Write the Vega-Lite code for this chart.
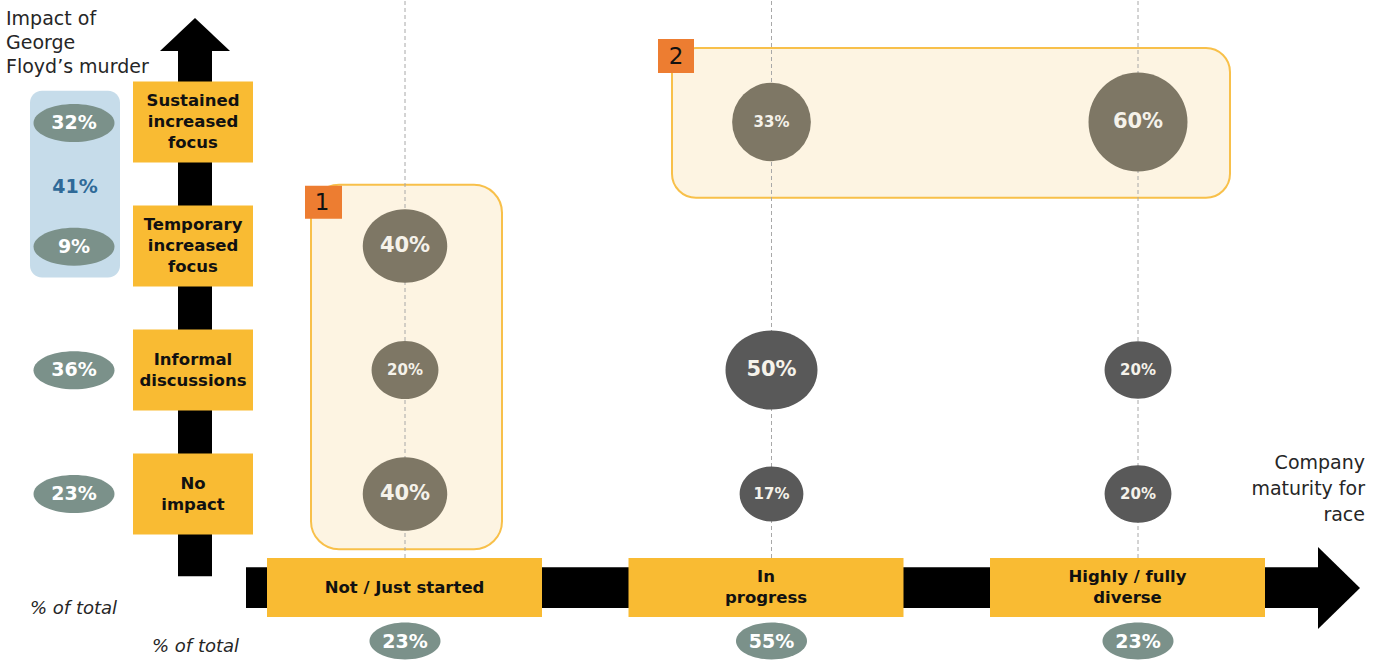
{
  "$schema": "https://vega.github.io/schema/vega-lite/v6.json",
  "width": 1383,
  "height": 661,
  "padding": 0,
  "autosize": {"type": "fit", "contains": "padding"},
  "background": "white",
  "config": {"view": {"stroke": null}, "axis": {"disable": true}, "legend": {"disable": true}, "font": "DejaVu Sans"},
  "datasets": {
    "cells": [
      {"maturity": "Not / Just started", "impact": "Temporary increased focus", "pct": 0.40, "callout": "1"},
      {"maturity": "Not / Just started", "impact": "Informal discussions", "pct": 0.20, "callout": "1"},
      {"maturity": "Not / Just started", "impact": "No impact", "pct": 0.40, "callout": "1"},
      {"maturity": "In progress", "impact": "Sustained increased focus", "pct": 0.33, "callout": "2"},
      {"maturity": "In progress", "impact": "Informal discussions", "pct": 0.50, "callout": "none"},
      {"maturity": "In progress", "impact": "No impact", "pct": 0.17, "callout": "none"},
      {"maturity": "Highly / fully diverse", "impact": "Sustained increased focus", "pct": 0.60, "callout": "2"},
      {"maturity": "Highly / fully diverse", "impact": "Informal discussions", "pct": 0.20, "callout": "none"},
      {"maturity": "Highly / fully diverse", "impact": "No impact", "pct": 0.20, "callout": "none"}
    ],
    "impact": [
      {"impact": "Sustained increased focus", "label": "Sustained\nincreased\nfocus", "pct": 0.32},
      {"impact": "Temporary increased focus", "label": "Temporary\nincreased\nfocus", "pct": 0.09},
      {"impact": "Informal discussions", "label": "Informal\ndiscussions", "pct": 0.36},
      {"impact": "No impact", "label": "No\nimpact", "pct": 0.23}
    ],
    "maturity": [
      {"maturity": "Not / Just started", "label": "Not / Just started", "pct": 0.23},
      {"maturity": "In progress", "label": "In\nprogress", "pct": 0.55},
      {"maturity": "Highly / fully diverse", "label": "Highly / fully\ndiverse", "pct": 0.23}
    ]
  },
  "data": {"values": [{}]},
  "resolve": {"scale": {"x": "independent", "y": "independent", "size": "independent", "color": "independent", "shape": "independent"}},
  "layer": [
    {"mark": {"type": "rect", "fill": "#fdf4e2", "stroke": "#f8c04a", "strokeWidth": 2, "cornerRadius": 24},
     "encoding": {
       "x": {"datum": 672, "type": "quantitative", "scale": {"domain": [0, 1383], "nice": false, "zero": false}},
       "x2": {"datum": 1230},
       "y": {"datum": 47, "type": "quantitative", "scale": {"domain": [0, 661], "nice": false, "zero": false, "reverse": true}},
       "y2": {"datum": 197}}},
    {"mark": {"type": "rect", "fill": "#fdf4e2", "stroke": "#f8c04a", "strokeWidth": 2, "cornerRadius": 28},
     "encoding": {
       "x": {"datum": 311, "type": "quantitative", "scale": {"domain": [0, 1383], "nice": false, "zero": false}},
       "x2": {"datum": 502},
       "y": {"datum": 184, "type": "quantitative", "scale": {"domain": [0, 661], "nice": false, "zero": false, "reverse": true}},
       "y2": {"datum": 549}}},
    {"data": {"name": "maturity"},
     "mark": {"type": "rule", "color": "#a8a8a8", "strokeWidth": 1, "strokeDash": [4, 3]},
     "encoding": {
       "x": {"field": "maturity", "type": "nominal", "scale": {"type": "point", "domain": ["Not / Just started", "In progress", "Highly / fully diverse"], "range": [405, 1138], "padding": 0}},
       "y": {"datum": 0, "type": "quantitative", "scale": {"domain": [0, 661], "nice": false, "zero": false, "reverse": true}},
       "y2": {"datum": 565}}},
    {"mark": {"type": "rect", "fill": "#000000"},
     "encoding": {
       "x": {"datum": 178, "type": "quantitative", "scale": {"domain": [0, 1383], "nice": false, "zero": false}},
       "x2": {"datum": 212},
       "y": {"datum": 49, "type": "quantitative", "scale": {"domain": [0, 661], "nice": false, "zero": false, "reverse": true}},
       "y2": {"datum": 576}}},
    {"mark": {"type": "point", "filled": true, "opacity": 1, "fill": "#000000", "strokeWidth": 0, "size": 4900, "shape": "M0,-0.471L1,0.471L-1,0.471Z"},
     "encoding": {
       "x": {"datum": 195, "type": "quantitative", "scale": {"domain": [0, 1383], "nice": false, "zero": false}},
       "y": {"datum": 33.5, "type": "quantitative", "scale": {"domain": [0, 661], "nice": false, "zero": false, "reverse": true}}}},
    {"mark": {"type": "rect", "fill": "#000000"},
     "encoding": {
       "x": {"datum": 246, "type": "quantitative", "scale": {"domain": [0, 1383], "nice": false, "zero": false}},
       "x2": {"datum": 1320},
       "y": {"datum": 567, "type": "quantitative", "scale": {"domain": [0, 661], "nice": false, "zero": false, "reverse": true}},
       "y2": {"datum": 608}}},
    {"mark": {"type": "point", "filled": true, "opacity": 1, "fill": "#000000", "strokeWidth": 0, "size": 6724, "shape": "M-0.512,-1L0.512,0L-0.512,1Z"},
     "encoding": {
       "x": {"datum": 1339, "type": "quantitative", "scale": {"domain": [0, 1383], "nice": false, "zero": false}},
       "y": {"datum": 588, "type": "quantitative", "scale": {"domain": [0, 661], "nice": false, "zero": false, "reverse": true}}}},
    {"data": {"name": "impact"},
     "mark": {"type": "point", "filled": true, "opacity": 1, "fill": "#f9bb33", "strokeWidth": 0, "size": 14400, "shape": "M-1,-0.675H1V0.675H-1Z"},
     "encoding": {
       "x": {"datum": 193, "type": "quantitative", "scale": {"domain": [0, 1383], "nice": false, "zero": false}},
       "y": {"field": "impact", "type": "nominal", "scale": {"type": "point", "domain": ["Sustained increased focus", "Temporary increased focus", "Informal discussions", "No impact"], "range": [121, 493], "padding": 0}}}},
    {"data": {"name": "impact"},
     "transform": [{"filter": {"field": "impact", "oneOf": ["Sustained increased focus", "Temporary increased focus"]}}],
     "mark": {"type": "text", "fontWeight": "bold", "fontSize": 16.5, "color": "#111111", "lineBreak": "\n", "lineHeight": 21, "align": "center", "baseline": "middle", "dy": -21},
     "encoding": {
       "x": {"datum": 193, "type": "quantitative", "scale": {"domain": [0, 1383], "nice": false, "zero": false}},
       "y": {"field": "impact", "type": "nominal", "scale": {"type": "point", "domain": ["Sustained increased focus", "Temporary increased focus", "Informal discussions", "No impact"], "range": [121, 493], "padding": 0}},
       "text": {"field": "label", "type": "nominal"}}},
    {"data": {"name": "impact"},
     "transform": [{"filter": {"field": "impact", "oneOf": ["Informal discussions", "No impact"]}}],
     "mark": {"type": "text", "fontWeight": "bold", "fontSize": 16.5, "color": "#111111", "lineBreak": "\n", "lineHeight": 21, "align": "center", "baseline": "middle", "dy": -10.5},
     "encoding": {
       "x": {"datum": 193, "type": "quantitative", "scale": {"domain": [0, 1383], "nice": false, "zero": false}},
       "y": {"field": "impact", "type": "nominal", "scale": {"type": "point", "domain": ["Sustained increased focus", "Temporary increased focus", "Informal discussions", "No impact"], "range": [121, 493], "padding": 0}},
       "text": {"field": "label", "type": "nominal"}}},
    {"data": {"name": "maturity"},
     "mark": {"type": "point", "filled": true, "opacity": 1, "fill": "#f9bb33", "strokeWidth": 0, "size": 75625, "shape": "M-1,-0.2145H1V0.2145H-1Z"},
     "encoding": {
       "x": {"field": "maturity", "type": "nominal", "scale": {"type": "point", "domain": ["Not / Just started", "In progress", "Highly / fully diverse"], "range": [404.5, 1127.5], "padding": 0}},
       "y": {"datum": 587.5, "type": "quantitative", "scale": {"domain": [0, 661], "nice": false, "zero": false, "reverse": true}}}},
    {"data": {"name": "maturity"},
     "transform": [{"filter": {"field": "maturity", "oneOf": ["Not / Just started"]}}],
     "mark": {"type": "text", "fontWeight": "bold", "fontSize": 16.5, "color": "#111111", "lineBreak": "\n", "lineHeight": 21, "align": "center", "baseline": "middle"},
     "encoding": {
       "x": {"field": "maturity", "type": "nominal", "scale": {"type": "point", "domain": ["Not / Just started", "In progress", "Highly / fully diverse"], "range": [404.5, 1127.5], "padding": 0}},
       "y": {"datum": 587.5, "type": "quantitative", "scale": {"domain": [0, 661], "nice": false, "zero": false, "reverse": true}},
       "text": {"field": "label", "type": "nominal"}}},
    {"data": {"name": "maturity"},
     "transform": [{"filter": {"field": "maturity", "oneOf": ["In progress", "Highly / fully diverse"]}}],
     "mark": {"type": "text", "fontWeight": "bold", "fontSize": 16.5, "color": "#111111", "lineBreak": "\n", "lineHeight": 21, "align": "center", "baseline": "middle", "dy": -10.5},
     "encoding": {
       "x": {"field": "maturity", "type": "nominal", "scale": {"type": "point", "domain": ["Not / Just started", "In progress", "Highly / fully diverse"], "range": [404.5, 1127.5], "padding": 0}},
       "y": {"datum": 587.5, "type": "quantitative", "scale": {"domain": [0, 661], "nice": false, "zero": false, "reverse": true}},
       "text": {"field": "label", "type": "nominal"}}},
    {"mark": {"type": "rect", "fill": "#ed7d31"},
     "encoding": {
       "x": {"datum": 305, "type": "quantitative", "scale": {"domain": [0, 1383], "nice": false, "zero": false}},
       "x2": {"datum": 342},
       "y": {"datum": 185, "type": "quantitative", "scale": {"domain": [0, 661], "nice": false, "zero": false, "reverse": true}},
       "y2": {"datum": 218}}},
    {"mark": {"type": "rect", "fill": "#ed7d31"},
     "encoding": {
       "x": {"datum": 658, "type": "quantitative", "scale": {"domain": [0, 1383], "nice": false, "zero": false}},
       "x2": {"datum": 694},
       "y": {"datum": 38, "type": "quantitative", "scale": {"domain": [0, 661], "nice": false, "zero": false, "reverse": true}},
       "y2": {"datum": 72}}},
    {"mark": {"type": "text", "text": "1", "fontSize": 23, "color": "#111111", "align": "center", "baseline": "middle"},
     "encoding": {
       "x": {"datum": 322, "type": "quantitative", "scale": {"domain": [0, 1383], "nice": false, "zero": false}},
       "y": {"datum": 202, "type": "quantitative", "scale": {"domain": [0, 661], "nice": false, "zero": false, "reverse": true}}}},
    {"mark": {"type": "text", "text": "2", "fontSize": 23, "color": "#111111", "align": "center", "baseline": "middle"},
     "encoding": {
       "x": {"datum": 676, "type": "quantitative", "scale": {"domain": [0, 1383], "nice": false, "zero": false}},
       "y": {"datum": 56, "type": "quantitative", "scale": {"domain": [0, 661], "nice": false, "zero": false, "reverse": true}}}},
    {"mark": {"type": "rect", "fill": "#c6dcea", "cornerRadius": 12},
     "encoding": {
       "x": {"datum": 30, "type": "quantitative", "scale": {"domain": [0, 1383], "nice": false, "zero": false}},
       "x2": {"datum": 120},
       "y": {"datum": 90, "type": "quantitative", "scale": {"domain": [0, 661], "nice": false, "zero": false, "reverse": true}},
       "y2": {"datum": 277}}},
    {"data": {"name": "impact"},
     "mark": {"type": "point", "filled": true, "opacity": 1, "fill": "#7b918a", "strokeWidth": 0, "size": 6561, "shape": "M-1,0A1,0.47 0 1,0 1,0A1,0.47 0 1,0 -1,0Z"},
     "encoding": {
       "x": {"datum": 74, "type": "quantitative", "scale": {"domain": [0, 1383], "nice": false, "zero": false}},
       "y": {"field": "impact", "type": "nominal", "scale": {"type": "point", "domain": ["Sustained increased focus", "Temporary increased focus", "Informal discussions", "No impact"], "range": [122, 493], "padding": 0}}}},
    {"data": {"name": "impact"},
     "mark": {"type": "text", "fontWeight": "bold", "fontSize": 19, "color": "#ffffff", "align": "center", "baseline": "middle"},
     "encoding": {
       "x": {"datum": 74, "type": "quantitative", "scale": {"domain": [0, 1383], "nice": false, "zero": false}},
       "y": {"field": "impact", "type": "nominal", "scale": {"type": "point", "domain": ["Sustained increased focus", "Temporary increased focus", "Informal discussions", "No impact"], "range": [122, 493], "padding": 0}},
       "text": {"field": "pct", "type": "quantitative", "format": ".0%"}}},
    {"data": {"name": "impact"},
     "transform": [
       {"filter": {"field": "impact", "oneOf": ["Sustained increased focus", "Temporary increased focus"]}},
       {"aggregate": [{"op": "sum", "field": "pct", "as": "total"}]}
     ],
     "mark": {"type": "text", "fontWeight": "bold", "fontSize": 19, "color": "#2f6a98", "align": "center", "baseline": "middle"},
     "encoding": {
       "x": {"datum": 75, "type": "quantitative", "scale": {"domain": [0, 1383], "nice": false, "zero": false}},
       "y": {"datum": 186, "type": "quantitative", "scale": {"domain": [0, 661], "nice": false, "zero": false, "reverse": true}},
       "text": {"field": "total", "type": "quantitative", "format": ".0%"}}},
    {"data": {"name": "cells"},
     "mark": {"type": "point", "filled": true, "opacity": 1, "strokeWidth": 0},
     "encoding": {
       "x": {"field": "maturity", "type": "nominal", "scale": {"type": "point", "domain": ["Not / Just started", "In progress", "Highly / fully diverse"], "range": [405, 1138], "padding": 0}},
       "y": {"field": "impact", "type": "nominal", "scale": {"type": "point", "domain": ["Sustained increased focus", "Temporary increased focus", "Informal discussions", "No impact"], "range": [121, 493], "padding": 0}},
       "size": {"field": "pct", "type": "quantitative", "scale": {"type": "linear", "domain": [0, 0.6], "range": [1800, 9800], "zero": false}},
       "color": {"field": "callout", "type": "nominal", "scale": {"domain": ["1", "2", "none"], "range": ["#7e7765", "#7e7765", "#595959"]}},
       "shape": {"field": "callout", "type": "nominal", "scale": {"domain": ["1", "2", "none"], "range": ["M-1,0A1,0.87 0 1,0 1,0A1,0.87 0 1,0 -1,0Z", "circle", "M-1,0A1,0.86 0 1,0 1,0A1,0.86 0 1,0 -1,0Z"]}}}},
    {"data": {"name": "cells"},
     "mark": {"type": "text", "fontWeight": "bold", "color": "#f5f2ea", "align": "center", "baseline": "middle"},
     "encoding": {
       "x": {"field": "maturity", "type": "nominal", "scale": {"type": "point", "domain": ["Not / Just started", "In progress", "Highly / fully diverse"], "range": [405, 1138], "padding": 0}},
       "y": {"field": "impact", "type": "nominal", "scale": {"type": "point", "domain": ["Sustained increased focus", "Temporary increased focus", "Informal discussions", "No impact"], "range": [121, 493], "padding": 0}},
       "size": {"field": "pct", "type": "quantitative", "scale": {"type": "threshold", "domain": [0.35], "range": [15, 21]}},
       "text": {"field": "pct", "type": "quantitative", "format": ".0%"}}},
    {"data": {"name": "maturity"},
     "mark": {"type": "point", "filled": true, "opacity": 1, "fill": "#7b918a", "strokeWidth": 0, "size": 5041, "shape": "M-1,0A1,0.52 0 1,0 1,0A1,0.52 0 1,0 -1,0Z"},
     "encoding": {
       "x": {"field": "maturity", "type": "nominal", "scale": {"type": "point", "domain": ["Not / Just started", "In progress", "Highly / fully diverse"], "range": [405, 1138], "padding": 0}},
       "y": {"datum": 641, "type": "quantitative", "scale": {"domain": [0, 661], "nice": false, "zero": false, "reverse": true}}}},
    {"data": {"name": "maturity"},
     "mark": {"type": "text", "fontWeight": "bold", "fontSize": 19, "color": "#ffffff", "align": "center", "baseline": "middle"},
     "encoding": {
       "x": {"field": "maturity", "type": "nominal", "scale": {"type": "point", "domain": ["Not / Just started", "In progress", "Highly / fully diverse"], "range": [405, 1138], "padding": 0}},
       "y": {"datum": 642, "type": "quantitative", "scale": {"domain": [0, 661], "nice": false, "zero": false, "reverse": true}},
       "text": {"field": "pct", "type": "quantitative", "format": ".0%"}}},
    {"mark": {"type": "text", "text": ["Impact of", "George", "Floyd’s murder"], "fontSize": 19, "color": "#262626", "align": "left", "baseline": "alphabetic", "lineHeight": 24},
     "encoding": {
       "x": {"datum": 6, "type": "quantitative", "scale": {"domain": [0, 1383], "nice": false, "zero": false}},
       "y": {"datum": 24, "type": "quantitative", "scale": {"domain": [0, 661], "nice": false, "zero": false, "reverse": true}}}},
    {"mark": {"type": "text", "text": ["Company", "maturity for", "race"], "fontSize": 19, "color": "#262626", "align": "right", "baseline": "alphabetic", "lineHeight": 26},
     "encoding": {
       "x": {"datum": 1365, "type": "quantitative", "scale": {"domain": [0, 1383], "nice": false, "zero": false}},
       "y": {"datum": 469, "type": "quantitative", "scale": {"domain": [0, 661], "nice": false, "zero": false, "reverse": true}}}},
    {"mark": {"type": "text", "text": "% of total", "fontSize": 18, "fontStyle": "italic", "color": "#262626", "align": "left", "baseline": "alphabetic"},
     "encoding": {
       "x": {"datum": 30, "type": "quantitative", "scale": {"domain": [0, 1383], "nice": false, "zero": false}},
       "y": {"datum": 614, "type": "quantitative", "scale": {"domain": [0, 661], "nice": false, "zero": false, "reverse": true}}}},
    {"mark": {"type": "text", "text": "% of total", "fontSize": 18, "fontStyle": "italic", "color": "#262626", "align": "left", "baseline": "alphabetic"},
     "encoding": {
       "x": {"datum": 152, "type": "quantitative", "scale": {"domain": [0, 1383], "nice": false, "zero": false}},
       "y": {"datum": 652, "type": "quantitative", "scale": {"domain": [0, 661], "nice": false, "zero": false, "reverse": true}}}}
  ]
}
